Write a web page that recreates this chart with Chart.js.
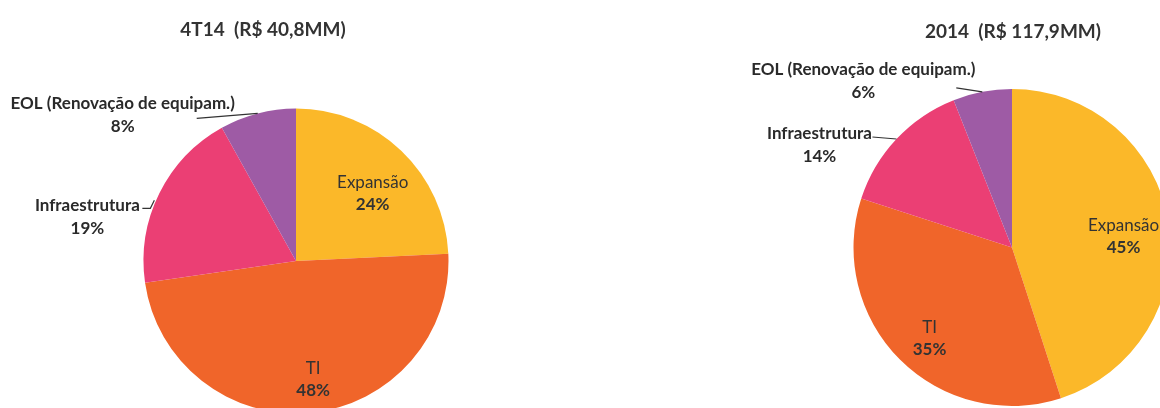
<!DOCTYPE html>
<html>
<head>
<meta charset="utf-8">
<script src="https://cdn.jsdelivr.net/npm/chart.js@4.4.0/dist/chart.umd.min.js"></script>
<style>
html, body { margin: 0; padding: 0; background: #fff; width: 1160px; height: 408px; overflow: hidden; }
canvas { position: absolute; left: 0; top: 0; }
</style>
</head>
<body>
<canvas id="pizza4T14" width="1200" height="420"></canvas>
<canvas id="pizza2014" width="1200" height="420"></canvas>
<script>
// dados
const categorias = ['Expansão', 'TI', 'Infraestrutura', 'EOL (Renovação de equipam.)'];
const valores4T14 = [24, 48, 19, 8];
const valores2014 = [45, 35, 14, 6];
const titulo4T14 = '4T14  (R$ 40,8MM)';
const titulo2014 = '2014  (R$ 117,9MM)';

const cores = ['#FBB829', '#F0652A', '#EB3F74', '#9E5BA5'];

// desenha titulos, rotulos e linhas de chamada
const rotulosPlugin = {
    id: 'rotulos',
    afterDraw(chart, args, opts) {
        const ctx = chart.ctx;
        const valores = chart.data.datasets[0].data;
        const arcs = chart.getDatasetMeta(0).data;
        ctx.save();
        ctx.textAlign = 'center';
        ctx.textBaseline = 'middle';
        ctx.fillStyle = '#333333';
        ctx.font = 'bold 19px Lato';
        ctx.fillText(opts.titulo, opts.tituloX, opts.tituloY);

        arcs.forEach((arc, i) => {
            const p = opts.pos[i];
            const { x, y, startAngle, endAngle, outerRadius } =
                arc.getProps(['x', 'y', 'startAngle', 'endAngle', 'outerRadius'], true);
            const meio = (startAngle + endAngle) / 2;
            const nome = chart.data.labels[i];
            const pct = valores[i] + '%';
            if (p.fora) {
                const ex = x + Math.cos(meio) * outerRadius;
                const ey = y + Math.sin(meio) * outerRadius;
                ctx.strokeStyle = '#333333';
                ctx.lineWidth = 1.2;
                ctx.beginPath();
                p.linha.forEach((pt, k) => {
                    if (k === 0) ctx.moveTo(ex + pt[0], ey + pt[1]);
                    else ctx.lineTo(ex + pt[0], ey + pt[1]);
                });
                ctx.stroke();
                ctx.fillStyle = '#2a2a2a';
                ctx.font = 'bold 17px Lato';
                ctx.fillText(nome, ex + p.dx, ey + p.dy);
                ctx.fillText(pct, ex + p.dx, ey + p.dy + 23);
            } else {
                const r = outerRadius * 0.7;
                const cx = x + Math.cos(meio) * r + p.dx;
                const cy = y + Math.sin(meio) * r + p.dy;
                ctx.fillStyle = '#333333';
                ctx.font = '17px Lato';
                ctx.fillText(nome, cx, cy - 11);
                ctx.font = 'bold 17px Lato';
                ctx.fillText(pct, cx, cy + 11);
            }
        });
        ctx.restore();
    }
};

function criaPizza(id, valores, titulo, tituloX, tituloY, area, pos) {
    return new Chart(document.getElementById(id), {
        type: 'pie',
        data: {
            labels: categorias,
            datasets: [{
                data: valores,
                backgroundColor: cores,
                borderWidth: 0,
                hoverOffset: 0
            }]
        },
        options: {
            responsive: false,
            animation: false,
            events: [],
            layout: {
                padding: {
                    left: area.left,
                    top: area.top,
                    right: 1200 - area.left - area.size,
                    bottom: 420 - area.top - area.size
                }
            },
            plugins: {
                legend: { display: false },
                tooltip: { enabled: false },
                rotulos: { titulo: titulo, tituloX: tituloX, tituloY: tituloY, pos: pos }
            }
        },
        plugins: [rotulosPlugin]
    });
}

criaPizza('pizza4T14', valores4T14, titulo4T14, 263, 30,
    { left: 143.5, top: 108.5, size: 305 },
    [
        { dx: 3, dy: 10 },
        { dx: 7, dy: 12 },
        { fora: true, dx: -72, dy: 12, linha: [[-17, 15], [-9, 15], [-5, 7]] },
        { fora: true, dx: -135, dy: -10, linha: [[-61, 5], [0, 0]] }
    ]);

criaPizza('pizza2014', valores2014, titulo2014, 1013, 32,
    { left: 853.5, top: 89, size: 317 },
    [
        { dx: 2, dy: 6 },
        { dx: -4, dy: 13 },
        { fora: true, dx: -77, dy: -5, linha: [[-24, -2], [0, 0]] },
        { fora: true, dx: -119, dy: -22, linha: [[-26, -4], [0, 0]] }
    ]);
</script>
</body>
</html>
